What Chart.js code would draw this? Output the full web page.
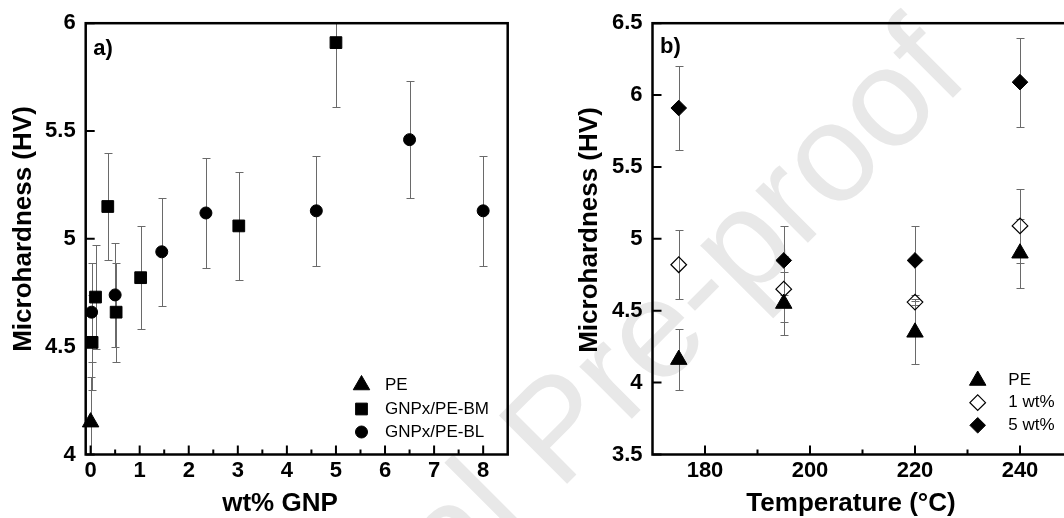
<!DOCTYPE html>
<html>
<head>
<meta charset="utf-8">
<script src="https://cdn.jsdelivr.net/npm/chart.js@4.4.1/dist/chart.umd.min.js"></script>
<style>
    html, body { margin: 0; padding: 0; background: #fff; overflow: hidden; }
    #page { position: relative; width: 1064px; height: 518px; overflow: hidden; }
    #wm { position: absolute; left: 0; top: 0; }
    #chartA { position: absolute; left: 0; top: 0; }
    #chartB { position: absolute; left: 530px; top: 0; }
</style>
</head>
<body>
<div id="page">
    <canvas id="wm" width="1064" height="518"></canvas>
    <canvas id="chartA" width="530" height="518"></canvas>
    <canvas id="chartB" width="560" height="518"></canvas>
</div>
<script>
// Panel a) microhardness vs GNP content
const peX = [0];
const peY = [4.15];
const peErr = [0.21];
const bmX = [0.03, 0.1, 0.35, 0.52, 1.02, 3.02, 5.0];
const bmY = [4.52, 4.73, 5.15, 4.66, 4.82, 5.06, 5.91];
const bmErr = [0.22, 0.24, 0.25, 0.23, 0.24, 0.25, 0.30];
const blX = [0.02, 0.5, 1.45, 2.35, 4.6, 6.5, 8.0];
const blY = [4.66, 4.74, 4.94, 5.12, 5.13, 5.46, 5.13];
const blErr = [0.23, 0.24, 0.25, 0.255, 0.255, 0.27, 0.255];
const xTicksA = [0, 1, 2, 3, 4, 5, 6, 7, 8];
const xMinorA = [0.5, 1.5, 2.5, 3.5, 4.5, 5.5, 6.5, 7.5];
const yTicksA = [4, 4.5, 5, 5.5, 6];

// Panel b) microhardness vs processing temperature
const tempC = [175, 195, 220, 240];
const pureY = [4.16, 4.55, 4.35, 4.90];
const pureErr = [0.21, 0.22, 0.22, 0.24];
const oneY = [4.82, 4.65, 4.56, 5.09];
const oneErr = [0.24, 0.23, 0.02, 0.26];
const fiveY = [5.91, 4.85, 4.85, 6.09];
const fiveErr = [0.29, 0.24, 0.24, 0.31];
const xTicksB = [180, 200, 220, 240];
const xMinorB = [190, 210, 230];
const yTicksB = [3.5, 4, 4.5, 5, 5.5, 6, 6.5];

const FONT = '"Liberation Sans", Arial, Helvetica, sans-serif';
Chart.defaults.font.family = FONT;
Chart.defaults.color = '#000';

const pts = (xs, ys) => xs.map((x, i) => ({ x: x, y: ys[i] }));

function series(label, data, style, radius, filled) {
    return {
        label: label,
        data: data,
        pointStyle: style,
        pointRadius: radius,
        pointHoverRadius: radius,
        backgroundColor: filled ? '#000' : 'rgba(0,0,0,0)',
        borderColor: '#000',
        borderWidth: filled ? 1 : 1.2,
        clip: false
    };
}

// error bars, frame, inward ticks, titles and legend
function figurePlugin(cfg) {
    return {
        id: 'figure',
        beforeDatasetsDraw(chart) {
            const { ctx, chartArea: a, scales: { y } } = chart;
            ctx.save();
            ctx.beginPath();
            ctx.rect(a.left, a.top, a.right - a.left, a.bottom - a.top);
            ctx.clip();
            ctx.strokeStyle = '#6a6a6a';
            ctx.lineWidth = 1;
            cfg.errors.forEach((errs, i) => {
                const meta = chart.getDatasetMeta(i);
                const vals = chart.data.datasets[i].data;
                meta.data.forEach((pt, j) => {
                    const x = Math.round(pt.x) + 0.5;
                    const top = Math.round(y.getPixelForValue(vals[j].y + errs[j])) + 0.5;
                    const bot = Math.round(y.getPixelForValue(vals[j].y - errs[j])) + 0.5;
                    ctx.beginPath();
                    ctx.moveTo(x, top); ctx.lineTo(x, bot);
                    ctx.moveTo(x - 4, top); ctx.lineTo(x + 4, top);
                    ctx.moveTo(x - 4, bot); ctx.lineTo(x + 4, bot);
                    ctx.stroke();
                });
            });
            ctx.restore();
        },
        afterDraw(chart) {
            const { ctx, chartArea: a, scales: { x, y } } = chart;
            ctx.save();
            ctx.strokeStyle = '#000';
            ctx.lineWidth = 2;
            ctx.beginPath();
            x.ticks.forEach(t => {
                const px = x.getPixelForValue(t.value);
                ctx.moveTo(px, a.bottom); ctx.lineTo(px, a.bottom - 9);
            });
            cfg.xMinor.forEach(v => {
                const px = x.getPixelForValue(v);
                ctx.moveTo(px, a.bottom); ctx.lineTo(px, a.bottom - 5);
            });
            y.ticks.forEach(t => {
                const py = y.getPixelForValue(t.value);
                ctx.moveTo(a.left, py); ctx.lineTo(a.left + 9, py);
            });
            ctx.stroke();
            ctx.lineWidth = 2.5;
            ctx.strokeRect(a.left, a.top, a.right - a.left, a.bottom - a.top);

            // axis titles
            ctx.fillStyle = '#000';
            ctx.font = 'bold 26px ' + FONT;
            ctx.textAlign = 'center';
            ctx.textBaseline = 'alphabetic';
            ctx.fillText(cfg.xTitle, cfg.xTitlePos[0], cfg.xTitlePos[1]);
            ctx.save();
            ctx.translate(cfg.yTitlePos[0], cfg.yTitlePos[1]);
            ctx.rotate(-Math.PI / 2);
            ctx.fillText(cfg.yTitle, 0, 0);
            ctx.restore();

            // panel letter
            ctx.font = 'bold 22px ' + FONT;
            ctx.textAlign = 'left';
            ctx.fillText(cfg.panel, a.left + 7.5, cfg.panelY);

            // legend
            ctx.font = '17px ' + FONT;
            ctx.textBaseline = 'middle';
            cfg.legendRows.forEach((rowY, i) => {
                const ds = chart.data.datasets[i];
                ctx.fillStyle = ds.backgroundColor;
                ctx.strokeStyle = ds.borderColor;
                ctx.lineWidth = ds.borderWidth;
                Chart.helpers.drawPoint(ctx, {
                    pointStyle: ds.pointStyle,
                    radius: ds.pointRadius,
                    rotation: 0,
                    borderWidth: ds.borderWidth
                }, cfg.legendX, rowY);
                ctx.fillStyle = '#000';
                ctx.fillText(ds.label, cfg.legendTextX, rowY);
            });
            ctx.restore();
        }
    };
}

function scatterOptions(xMin, xMax, xTicks, yMin, yMax, yTicks, box) {
    const tickFont = { size: 22, weight: 'bold' };
    return {
        responsive: false,
        animation: false,
        events: [],
        layout: { padding: { left: 0, top: box.top, right: box.right, bottom: 0 } },
        plugins: { legend: { display: false }, tooltip: { enabled: false } },
        scales: {
            x: {
                type: 'linear',
                min: xMin,
                max: xMax,
                afterBuildTicks: s => { s.ticks = xTicks.map(v => ({ value: v })); },
                afterFit: s => { s.height = box.xHeight; },
                grid: { display: false, drawTicks: false },
                border: { display: false },
                ticks: { font: tickFont, color: '#000', padding: 3, maxRotation: 0, autoSkip: false, callback: v => String(v) }
            },
            y: {
                type: 'linear',
                min: yMin,
                max: yMax,
                afterBuildTicks: s => { s.ticks = yTicks.map(v => ({ value: v })); },
                afterFit: s => { s.width = box.yWidth; },
                grid: { display: false, drawTicks: false },
                border: { display: false },
                ticks: { font: tickFont, color: '#000', padding: 10, autoSkip: false, callback: v => String(v) }
            }
        }
    };
}

// watermark behind both panels
function drawWatermark() {
    const ctx = document.getElementById('wm').getContext('2d');
    ctx.font = '140px ' + FONT;
    ctx.fillStyle = '#e8e8e8';
    ctx.textBaseline = 'middle';
    ctx.translate(738, 258);
    ctx.rotate(-45 * Math.PI / 180);
    const w1 = ctx.measureText('Journal ').width;
    const w2 = ctx.measureText('Pre-proof').width;
    ctx.fillText('Journal Pre-proof', -(w1 + w2 / 2), 0);
}

drawWatermark();

new Chart(document.getElementById('chartA'), {
    type: 'scatter',
    data: {
        datasets: [
            series('PE', pts(peX, peY), 'triangle', 9.5, true),
            series('GNPx/PE-BM', pts(bmX, bmY), 'rect', 8.3, true),
            series('GNPx/PE-BL', pts(blX, blY), 'circle', 6, true)
        ]
    },
    options: scatterOptions(-0.1, 8.5, xTicksA, 4, 6, yTicksA,
        { top: 22.7, right: 22.3, xHeight: 63.5, yWidth: 85.7 }),
    plugins: [figurePlugin({
        errors: [peErr, bmErr, blErr],
        xMinor: xMinorA,
        xTitle: 'wt% GNP',
        xTitlePos: [280, 511],
        yTitle: 'Microhardness (HV)',
        yTitlePos: [31, 229],
        panel: 'a)',
        panelY: 55,
        legendX: 361.5,
        legendTextX: 385,
        legendRows: [385, 409, 432]
    })]
});

new Chart(document.getElementById('chartB'), {
    type: 'scatter',
    data: {
        datasets: [
            series('PE', pts(tempC, pureY), 'triangle', 9.5, true),
            series('1 wt%', pts(tempC, oneY), 'rectRot', 7.8, false),
            series('5 wt%', pts(tempC, fiveY), 'rectRot', 7.8, true)
        ]
    },
    options: scatterOptions(170, 250, xTicksB, 3.5, 6.5, yTicksB,
        { top: 22.7, right: 17.5, xHeight: 63.5, yWidth: 122.5 }),
    plugins: [figurePlugin({
        errors: [pureErr, oneErr, fiveErr],
        xMinor: xMinorB,
        xTitle: 'Temperature (°C)',
        xTitlePos: [321, 511],
        yTitle: 'Microhardness (HV)',
        yTitlePos: [67, 230],
        panel: 'b)',
        panelY: 53,
        legendX: 447.7,
        legendTextX: 478.3,
        legendRows: [380.5, 402.7, 425.3]
    })]
});
</script>
</body>
</html>
